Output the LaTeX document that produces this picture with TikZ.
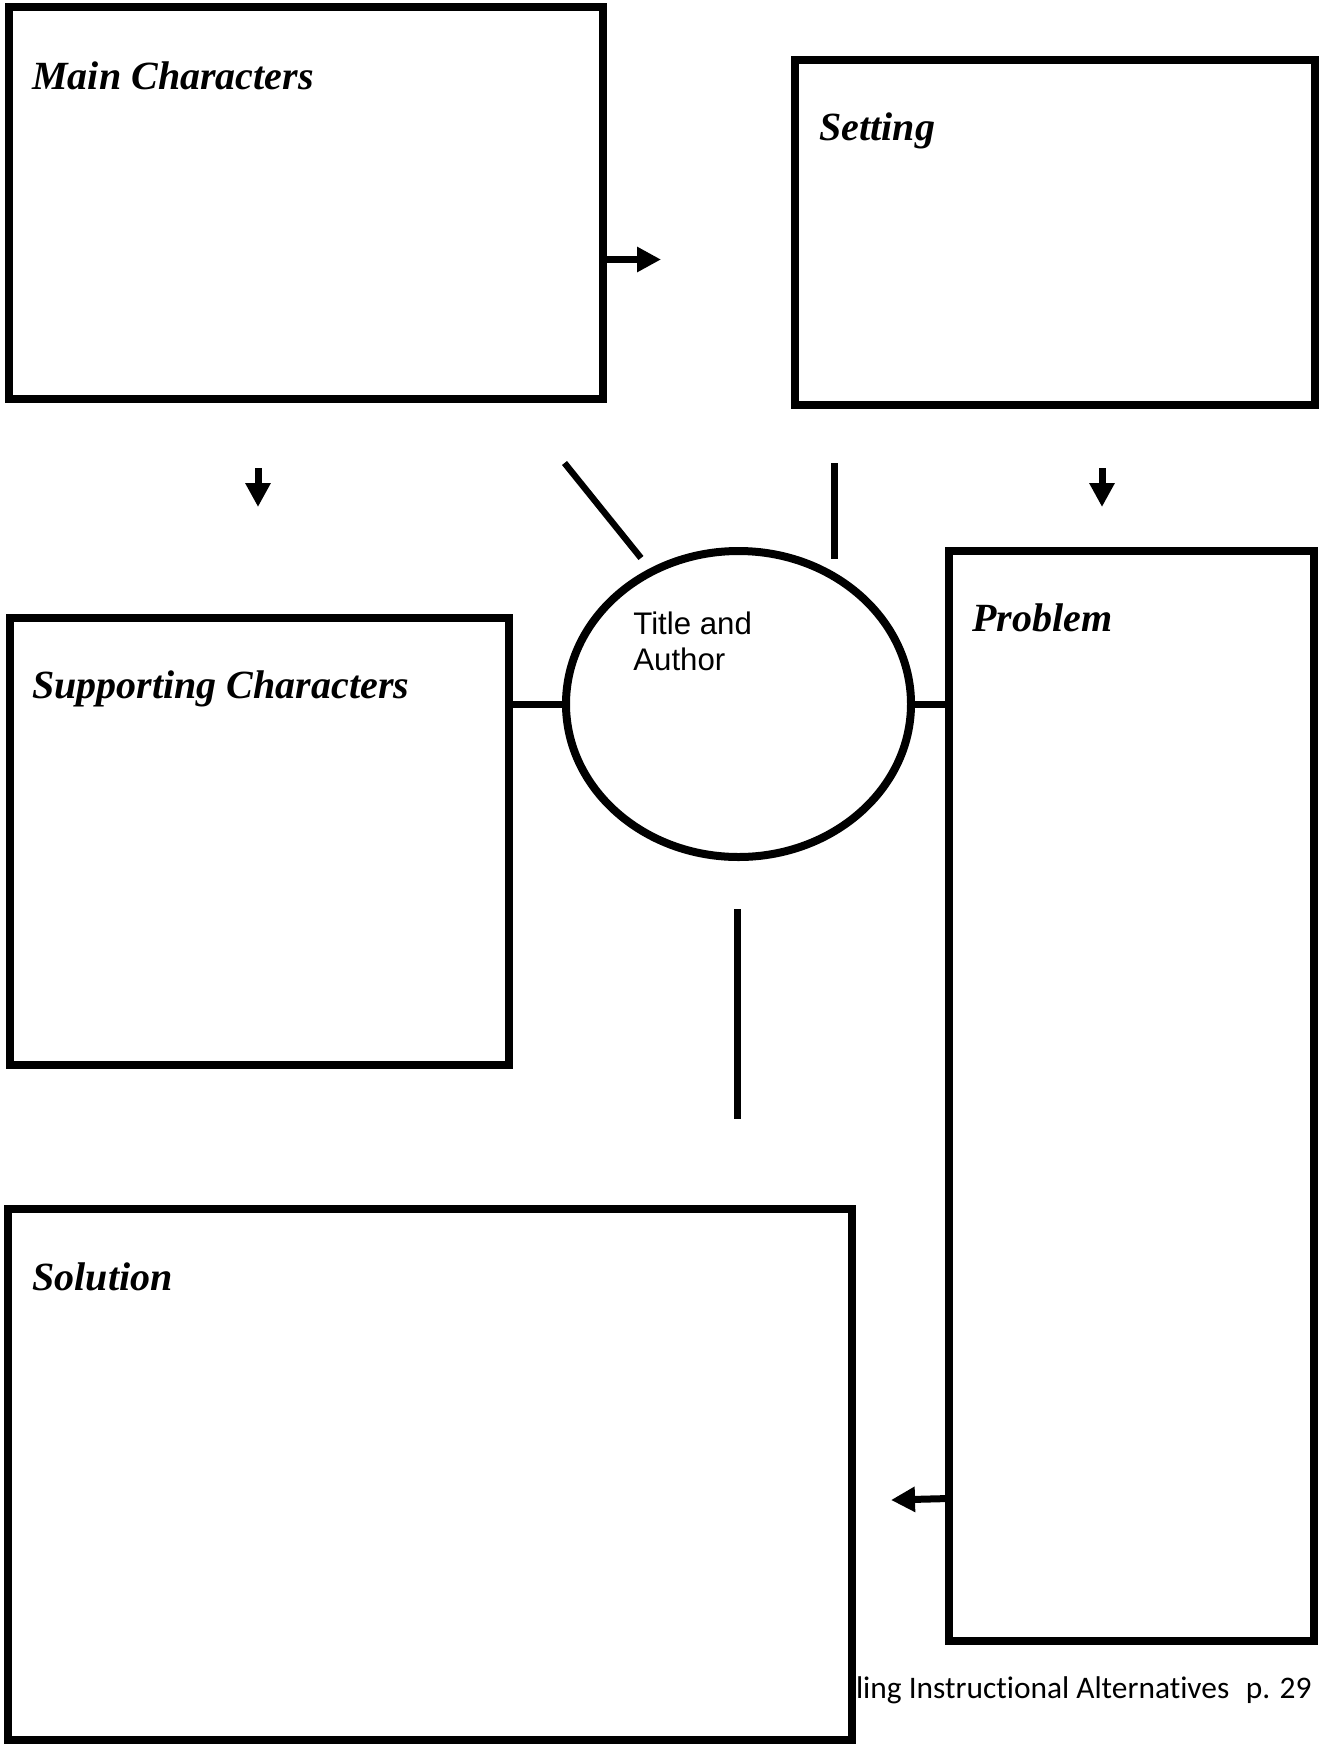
\documentclass[tikz,border=0pt]{standalone}
\usepackage{fontspec}
\setmainfont{Liberation Serif}
\newfontfamily\labelsans{Liberation Sans}
\newfontfamily\footsans[Ligatures={NoCommon,NoRequired}]{Carlito}
\usetikzlibrary{arrows.meta,shapes.geometric}

\tikzset{
  panel/.style={draw=black, line width=4pt, fill=white, inner sep=0pt, outer sep=0pt},
  hub/.style={ellipse, draw=black, line width=4pt, fill=white, inner sep=0pt, outer sep=0pt},
  heading/.style={anchor=base west, inner sep=0pt,
    font=\fontsize{20pt}{24pt}\selectfont\bfseries\itshape},
  link/.style={line width=3.5pt},
  pointer/.style={line width=3.5pt, -{Triangle[length=12pt,width=12pt]}},
}

\begin{document}
\begin{tikzpicture}[x=0.5pt, y=-0.5pt]
  \useasboundingbox (0,0) rectangle (1319,1746);
  \fill[white] (0,0) rectangle (1319,1746);

  % footer line, partly hidden behind the Solution panel
  \node[anchor=base east, inner sep=0pt, font=\fontsize{15.7pt}{18pt}\footsans]
    (foot) at (1312,1698) {ling Instructional Alternatives\hspace{0.3em} p. 29};

  % panels
  \node[panel, minimum width=297pt, minimum height=196pt] (main) at (306,203) {};
  \node[panel, minimum width=260pt, minimum height=172.5pt] (setting) at (1055,232.5) {};
  \node[panel, minimum width=249.5pt, minimum height=223.5pt] (support) at (259.5,841.5) {};
  \node[panel, minimum width=182.5pt, minimum height=545pt] (problem) at (1131.5,1096) {};
  \node[panel, minimum width=422pt, minimum height=265.5pt] (solution) at (430,1474.5) {};

  % central title ellipse
  \node[hub, minimum width=172.5pt, minimum height=153pt] (title) at (738.5,704) {};

  % headings
  \node[heading] (mainlbl) at (32,89) {Main Characters};
  \node[heading] (setlbl) at (819,140) {Setting};
  \node[heading] (suplbl) at (32,698) {Supporting Characters};
  \node[heading] (problbl) at (972,631) {Problem};
  \node[heading] (sollbl) at (32,1290) {Solution};
  \node[anchor=base west, inner sep=0pt, align=left,
        font=\fontsize{15.6pt}{18pt}\labelsans] (titlelbl) at (633,670) {Title and\\Author};

  % free ends of the short strokes and arrows
  \coordinate (mainTip) at (661,259.5);
  \coordinate (leftTop) at (258,468);
  \coordinate (leftTip) at (258,507);
  \coordinate (rightTop) at (1102,468);
  \coordinate (rightTip) at (1102,507);
  \coordinate (diagA) at (564.5,463);
  \coordinate (diagB) at (641,558);
  \coordinate (vertA) at (834,463);
  \coordinate (vertB) at (834,559);
  \coordinate (lowA) at (737,909);
  \coordinate (lowB) at (737,1119);
  \coordinate (probOut) at (949,1498.5);
  \coordinate (solTip) at (891,1500);

  % arrows
  \draw[pointer] (main.east |- mainTip) -- (mainTip);
  \draw[pointer] (leftTop) -- (leftTip);
  \draw[pointer] (rightTop) -- (rightTip);
  \draw[pointer] (probOut) -- (solTip);

  % spokes around the ellipse
  \draw[line width=3.2pt] (diagA) -- (diagB);
  \draw[link] (vertA) -- (vertB);
  \draw[link] (lowA) -- (lowB);
  \draw[link] (support.east |- title.west) -- (title.west);
  \draw[link] (title.east) -- (problem.west |- title.east);
\end{tikzpicture}
\end{document}
